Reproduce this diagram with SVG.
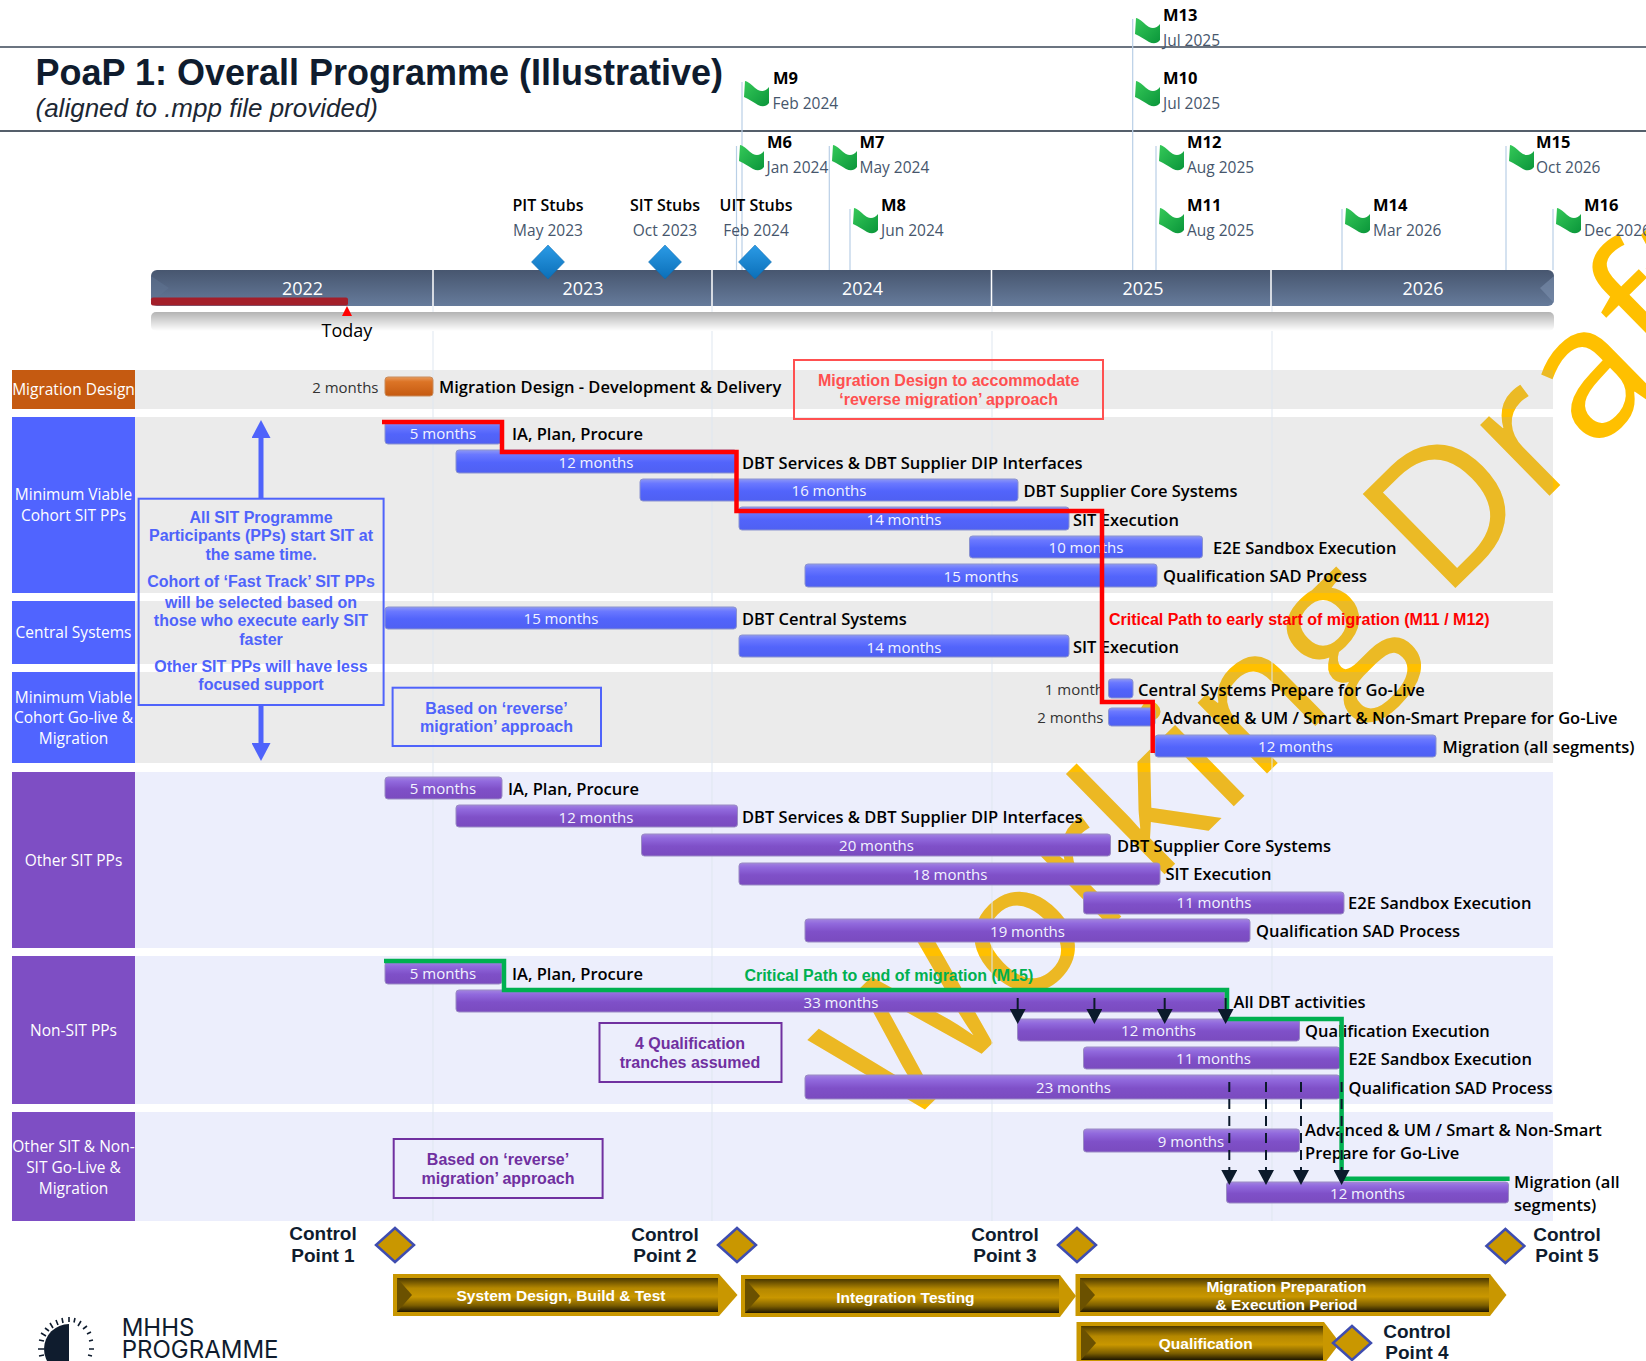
<svg xmlns="http://www.w3.org/2000/svg" width="1646" height="1361" viewBox="0 0 1646 1361">
<style>
text{font-family:"Open Sans","Noto Sans",sans-serif}
.a{font-family:"Liberation Sans",Arial,sans-serif;font-weight:700}
.l{font-size:16.5px;font-weight:600;fill:#000}
.d{font-size:15.5px;fill:#46566c}
.m{font-size:16.5px;font-weight:700;fill:#000}
.s{font-size:16px;font-weight:600;fill:#000;text-anchor:middle}
.t{font-size:15px;fill:#f2f3ff;text-anchor:middle}
.g{font-size:15px;fill:#333;text-anchor:end}
.h{font-size:15.5px;fill:#fff;text-anchor:middle}
.y{font-size:18px;fill:#fff;text-anchor:middle}
.cb{font-size:16px;fill:#4f63fb;text-anchor:middle}
.cp{font-size:16px;fill:#7030a0;text-anchor:middle}
.cr{font-size:16px;fill:#ff5050;text-anchor:middle}
.c{font-size:19px;fill:#0f1c2e;text-anchor:middle}
.w{font-size:15.5px;fill:#fff;text-anchor:middle}
.bb{fill:url(#blue);stroke:#8b93cf;stroke-width:1}
.bp{fill:url(#purple);stroke:#9a8bc4;stroke-width:1}
.cd{fill:#c99700;stroke:#3f4db0;stroke-width:2.5}
.bd{fill:url(#bdia);stroke:#0a6bb0;stroke-width:.5}
.pole{stroke:#b9cfe6;stroke-width:1.2}
.grid{stroke:#dfe7f0;stroke-width:1}
.gb{fill:rgba(165,165,165,.224)}
.pb{fill:rgba(128,142,235,.15)}
.dash{stroke:#0b1a2b;stroke-width:2;stroke-dasharray:10 7;fill:none;marker-end:url(#head)}
.solid{stroke:#0b1a2b;stroke-width:2;fill:none;marker-end:url(#head)}
.box{fill:none;stroke-width:2}
</style>
<defs>
<linearGradient id="blue" x1="0" y1="0" x2="0" y2="1"><stop offset="0" stop-color="#8d97f5"/><stop offset=".2" stop-color="#6a78ff"/><stop offset=".55" stop-color="#5264fb"/><stop offset="1" stop-color="#4f60f2"/></linearGradient>
<linearGradient id="purple" x1="0" y1="0" x2="0" y2="1"><stop offset="0" stop-color="#a283e0"/><stop offset=".2" stop-color="#9169dd"/><stop offset=".55" stop-color="#7f50c8"/><stop offset="1" stop-color="#7a4bbf"/></linearGradient>
<linearGradient id="orange" x1="0" y1="0" x2="0" y2="1"><stop offset="0" stop-color="#e89a5c"/><stop offset=".25" stop-color="#dc7426"/><stop offset="1" stop-color="#c55a11"/></linearGradient>
<linearGradient id="tl" x1="0" y1="0" x2="0" y2="1"><stop offset="0" stop-color="#47566f"/><stop offset="1" stop-color="#667b9b"/></linearGradient>
<linearGradient id="refl" x1="0" y1="0" x2="0" y2="1"><stop offset="0" stop-color="#b3b3b3"/><stop offset="1" stop-color="#fff"/></linearGradient>
<linearGradient id="bdia" x1="0" y1="0" x2="0" y2="1"><stop offset="0" stop-color="#2b9be6"/><stop offset="1" stop-color="#0b6fb8"/></linearGradient>
<linearGradient id="flag" x1="0" y1="0" x2="1" y2="1"><stop offset="0" stop-color="#35c958"/><stop offset="1" stop-color="#0a953a"/></linearGradient>
<linearGradient id="gold" x1="0" y1="0" x2="0" y2="1"><stop offset="0" stop-color="#4a3800"/><stop offset=".3" stop-color="#b58800"/><stop offset=".55" stop-color="#c99700"/><stop offset=".8" stop-color="#7d5f00"/><stop offset="1" stop-color="#1f1700"/></linearGradient>
<marker id="head" markerUnits="userSpaceOnUse" markerWidth="16" markerHeight="16" refX="0" refY="8" orient="auto"><path d="M0,0 L15,8 L0,16 Z" fill="#0b1a2b"/></marker>
<marker id="bhead" markerUnits="userSpaceOnUse" markerWidth="18" markerHeight="19" refX="0" refY="9.5" orient="auto"><path d="M0,0 L18,9.5 L0,19 Z" fill="#4f63fb"/></marker>
<path id="fl" d="M1,0 C6,1 9,6 14,9 C18,11 22,10 25,6 L25,22 C22,26 18,26 14,24 C9,21 5,18 0,16 Z" fill="url(#flag)"/>
</defs>

<g id="watermark"><text x="898" y="1136" transform="rotate(-44.5 898 1136)" font-size="185" fill="#ffc000" style="font-family:'Open Sans',sans-serif" text-rendering="geometricPrecision">Working Draft</text></g>

<g id="header-lines"><line x1="0" y1="47" x2="1646" y2="47" stroke="#3a4656" stroke-width="1.6"/><line x1="0" y1="131" x2="1646" y2="131" stroke="#1c2a3a" stroke-width="1.6"/></g>

<g id="title">
<text class="a" x="35.5" y="85" font-size="36" fill="#0f1c2e">PoaP 1: Overall Programme (Illustrative)</text>
<text x="35.5" y="117" font-size="26" font-style="italic" fill="#1c2733" style="font-family:'Liberation Sans',Arial,sans-serif">(aligned to .mpp file provided)</text>
</g>

<g id="bands">
<rect class="gb" x="135" y="370" width="1418" height="39"/>
<rect class="gb" x="135" y="417" width="1418" height="176"/>
<rect class="gb" x="135" y="601" width="1418" height="63"/>
<rect class="gb" x="135" y="672" width="1418" height="91"/>
<rect class="pb" x="135" y="772" width="1418" height="176"/>
<rect class="pb" x="135" y="956" width="1418" height="148"/>
<rect class="pb" x="135" y="1112" width="1418" height="109"/>
</g>
<g id="gridlines">
<line class="grid" x1="433" y1="306" x2="433" y2="1221"/><line class="grid" x1="712" y1="306" x2="712" y2="1221"/><line class="grid" x1="992" y1="306" x2="992" y2="1221"/><line class="grid" x1="1272" y1="306" x2="1272" y2="1221"/>
</g>

<g id="row-labels">
<g id="lbl-md"><rect x="12" y="370" width="123" height="39" fill="#c55a11"/><text class="h" x="73.5" y="395">Migration Design</text></g>
<g id="lbl-mvc"><rect x="12" y="417" width="123" height="176" fill="#5064ff"/><text class="h" x="73.5" y="500">Minimum Viable</text><text class="h" x="73.5" y="521">Cohort SIT PPs</text></g>
<g id="lbl-cs"><rect x="12" y="601" width="123" height="63" fill="#5064ff"/><text class="h" x="73.5" y="638">Central Systems</text></g>
<g id="lbl-mvg"><rect x="12" y="672" width="123" height="91" fill="#5064ff"/><text class="h" x="73.5" y="703">Minimum Viable</text><text class="h" x="73.5" y="723">Cohort Go-live &amp;</text><text class="h" x="73.5" y="744">Migration</text></g>
<g id="lbl-os"><rect x="12" y="772" width="123" height="176" fill="#7e4ec4"/><text class="h" x="73.5" y="866">Other SIT PPs</text></g>
<g id="lbl-ns"><rect x="12" y="956" width="123" height="148" fill="#7e4ec4"/><text class="h" x="73.5" y="1036">Non-SIT PPs</text></g>
<g id="lbl-og"><rect x="12" y="1112" width="123" height="109" fill="#7e4ec4"/><text class="h" x="73.5" y="1152">Other SIT &amp; Non-</text><text class="h" x="73.5" y="1173">SIT Go-Live &amp;</text><text class="h" x="73.5" y="1194">Migration</text></g>
</g>

<g id="poles">
<line class="pole" x1="742" y1="82" x2="742" y2="270"/><line class="pole" x1="736.5" y1="146" x2="736.5" y2="270"/><line class="pole" x1="829.3" y1="146" x2="829.3" y2="270"/><line class="pole" x1="850" y1="209" x2="850" y2="270"/><line class="pole" x1="1132.7" y1="19" x2="1132.7" y2="270"/><line class="pole" x1="1156" y1="146" x2="1156" y2="270"/><line class="pole" x1="1342" y1="209" x2="1342" y2="270"/><line class="pole" x1="1506" y1="146" x2="1506" y2="270"/><line class="pole" x1="1553" y1="209" x2="1553" y2="270"/>
</g>

<g id="timeline">
<rect x="151" y="312" width="1403" height="19" rx="5" fill="url(#refl)"/>
<rect x="151" y="270" width="1403" height="36" rx="6" fill="url(#tl)"/>
<path d="M151,276 L169,288 L151,303 Z" fill="#5f7391" opacity=".5"/>
<path d="M1554,276 L1540,288 L1554,303 Z" fill="#7b8fae" opacity=".6"/>
<g stroke="#fff" stroke-width="1.5"><line x1="433" y1="270" x2="433" y2="306"/><line x1="712" y1="270" x2="712" y2="306"/><line x1="991.5" y1="270" x2="991.5" y2="306"/><line x1="1271" y1="270" x2="1271" y2="306"/></g>
<text class="y" x="302.5" y="295">2022</text><text class="y" x="583" y="295">2023</text><text class="y" x="862.5" y="295">2024</text><text class="y" x="1143" y="295">2025</text><text class="y" x="1423" y="295">2026</text>
<rect x="151" y="297.5" width="197" height="8" rx="2" fill="#a31f2a"/>
<path d="M347,306 L352,316 L342,316 Z" fill="#ff0000"/>
<text x="347" y="337" font-size="18" fill="#000" text-anchor="middle">Today</text>
</g>

<g id="stub-pit"><path class="bd" d="M548,245 L564.5,262 L548,279 L531.5,262 Z"/><text class="s" x="548" y="211">PIT Stubs</text><text class="d" x="548" y="236" text-anchor="middle">May 2023</text></g>
<g id="stub-sit"><path class="bd" d="M665,245 L681.5,262 L665,279 L648.5,262 Z"/><text class="s" x="665" y="211">SIT Stubs</text><text class="d" x="665" y="236" text-anchor="middle">Oct 2023</text></g>
<g id="stub-uit"><path class="bd" d="M755,245 L771.5,262 L755,279 L738.5,262 Z"/><text class="s" x="756" y="211">UIT Stubs</text><text class="d" x="756" y="236" text-anchor="middle">Feb 2024</text></g>

<g id="m9"><use href="#fl" x="744" y="81"/><text class="m" x="773" y="84">M9</text><text class="d" x="772.5" y="109">Feb 2024</text></g>
<g id="m6"><use href="#fl" x="739" y="145"/><text class="m" x="767" y="148">M6</text><text class="d" x="766.5" y="173">Jan 2024</text></g>
<g id="m7"><use href="#fl" x="832" y="145"/><text class="m" x="859.5" y="148">M7</text><text class="d" x="859.5" y="173">May 2024</text></g>
<g id="m8"><use href="#fl" x="853" y="208"/><text class="m" x="881" y="211">M8</text><text class="d" x="881" y="236">Jun 2024</text></g>
<g id="m13"><use href="#fl" x="1135" y="18"/><text class="m" x="1163" y="21">M13</text><text class="d" x="1163" y="46">Jul 2025</text></g>
<g id="m10"><use href="#fl" x="1135" y="81"/><text class="m" x="1163" y="84">M10</text><text class="d" x="1163" y="109">Jul 2025</text></g>
<g id="m12"><use href="#fl" x="1159" y="145"/><text class="m" x="1187" y="148">M12</text><text class="d" x="1187" y="173">Aug 2025</text></g>
<g id="m11"><use href="#fl" x="1159" y="208"/><text class="m" x="1187" y="211">M11</text><text class="d" x="1187" y="236">Aug 2025</text></g>
<g id="m14"><use href="#fl" x="1345" y="208"/><text class="m" x="1373" y="211">M14</text><text class="d" x="1373" y="236">Mar 2026</text></g>
<g id="m15"><use href="#fl" x="1509" y="145"/><text class="m" x="1536" y="148">M15</text><text class="d" x="1536" y="173">Oct 2026</text></g>
<g id="m16"><use href="#fl" x="1556" y="208"/><text class="m" x="1584" y="211">M16</text><text class="d" x="1584" y="236">Dec 2026</text></g>

<g id="bars-md">
<rect x="385" y="377" width="48" height="19" rx="3" fill="url(#orange)" stroke="#c98b5a"/>
<text class="g" x="378.5" y="393">2 months</text><text class="l" x="439" y="393">Migration Design - Development &amp; Delivery</text>
</g>

<g id="bars-mvc">
<g id="b1"><rect class="bb" x="385" y="422" width="116" height="22" rx="3"/><text class="t" x="443" y="439">5 months</text><text class="l" x="512" y="440">IA, Plan, Procure</text></g>
<g id="b2"><rect class="bb" x="456" y="450" width="281" height="23" rx="3"/><text class="t" x="596" y="468">12 months</text><text class="l" x="742" y="469">DBT Services &amp; DBT Supplier DIP Interfaces</text></g>
<g id="b3"><rect class="bb" x="640" y="479" width="378" height="22" rx="3"/><text class="t" x="829" y="496">16 months</text><text class="l" x="1023.5" y="497">DBT Supplier Core Systems</text></g>
<g id="b4"><rect class="bb" x="739" y="507" width="330" height="23" rx="3"/><text class="t" x="904" y="525">14 months</text><text class="l" x="1073" y="526">SIT Execution</text></g>
<g id="b5"><rect class="bb" x="969.5" y="536" width="233" height="22" rx="3"/><text class="t" x="1086" y="553">10 months</text><text class="l" x="1213" y="554">E2E Sandbox Execution</text></g>
<g id="b6"><rect class="bb" x="805" y="564" width="352" height="23" rx="3"/><text class="t" x="981" y="582">15 months</text><text class="l" x="1163" y="582">Qualification SAD Process</text></g>
<g id="b7"><rect class="bb" x="385" y="607" width="351.5" height="22" rx="3"/><text class="t" x="561" y="624">15 months</text><text class="l" x="742" y="625">DBT Central Systems</text></g>
<g id="b8"><rect class="bb" x="739" y="635" width="330" height="22" rx="3"/><text class="t" x="904" y="653">14 months</text><text class="l" x="1073" y="653">SIT Execution</text></g>
<g id="b9"><rect class="bb" x="1108.5" y="679" width="24.5" height="19" rx="3"/><text class="g" x="1104" y="695">1 month</text><text class="l" x="1138" y="696">Central Systems Prepare for Go-Live</text></g>
<g id="b10"><rect class="bb" x="1108.5" y="708" width="46.5" height="18" rx="3"/><text class="g" x="1103.5" y="723">2 months</text><text class="l" x="1162" y="724">Advanced &amp; UM / Smart &amp; Non-Smart Prepare for Go-Live</text></g>
<g id="b11"><rect class="bb" x="1155" y="735" width="281" height="22" rx="3"/><text class="t" x="1295.5" y="752">12 months</text><text class="l" x="1442.5" y="753">Migration (all segments)</text></g>
</g>

<g id="bars-other">
<g id="p1"><rect class="bp" x="385" y="777" width="117" height="22" rx="3"/><text class="t" x="443" y="794">5 months</text><text class="l" x="508" y="795">IA, Plan, Procure</text></g>
<g id="p2"><rect class="bp" x="456" y="805" width="281.5" height="22" rx="3"/><text class="t" x="596" y="823">12 months</text><text class="l" x="742" y="823">DBT Services &amp; DBT Supplier DIP Interfaces</text></g>
<g id="p3"><rect class="bp" x="641.5" y="834" width="469" height="22" rx="3"/><text class="t" x="876.5" y="851">20 months</text><text class="l" x="1117" y="852">DBT Supplier Core Systems</text></g>
<g id="p4"><rect class="bp" x="739" y="863" width="421" height="22" rx="3"/><text class="t" x="950" y="880">18 months</text><text class="l" x="1165.5" y="880">SIT Execution</text></g>
<g id="p5"><rect class="bp" x="1083.5" y="892" width="260.5" height="22" rx="3"/><text class="t" x="1214" y="908">11 months</text><text class="l" x="1348" y="909">E2E Sandbox Execution</text></g>
<g id="p6"><rect class="bp" x="805" y="919" width="445" height="23" rx="3"/><text class="t" x="1027.5" y="937">19 months</text><text class="l" x="1256" y="937">Qualification SAD Process</text></g>
</g>

<g id="bars-nonsit">
<g id="n1"><rect class="bp" x="385" y="962" width="117" height="22" rx="3"/><text class="t" x="443" y="979">5 months</text><text class="l" x="512" y="980">IA, Plan, Procure</text></g>
<g id="n2"><rect class="bp" x="456" y="990" width="768.5" height="22" rx="3"/><text class="t" x="841" y="1008">33 months</text><text class="l" x="1233.5" y="1008">All DBT activities</text></g>
<g id="n3"><rect class="bp" x="1017.5" y="1019" width="282" height="22" rx="3"/><text class="t" x="1158.5" y="1036">12 months</text><text class="l" x="1305" y="1037">Qualification Execution</text></g>
<g id="n4"><rect class="bp" x="1083.5" y="1047" width="256.5" height="22" rx="3"/><text class="t" x="1213.5" y="1064">11 months</text><text class="l" x="1348.5" y="1065">E2E Sandbox Execution</text></g>
<g id="n5"><rect class="bp" x="805" y="1075" width="535" height="24" rx="3"/><text class="t" x="1073.5" y="1093">23 months</text><text class="l" x="1348.5" y="1094">Qualification SAD Process</text></g>
<g id="n6"><rect class="bp" x="1083.5" y="1129" width="216" height="23" rx="3"/><text class="t" x="1191" y="1147">9 months</text><text class="l" x="1305" y="1136">Advanced &amp; UM / Smart &amp; Non-Smart</text><text class="l" x="1305" y="1159">Prepare for Go-Live</text></g>
<g id="n7"><rect class="bp" x="1226.5" y="1182" width="282" height="21" rx="3"/><text class="t" x="1367.5" y="1199">12 months</text><text class="l" x="1514" y="1188">Migration (all</text><text class="l" x="1514" y="1211">segments)</text></g>
</g>

<g id="connectors">
<path d="M382,422 H502 V452 H736.5 V511 H1102 V702 H1152.7 V753" fill="none" stroke="#ff0000" stroke-width="4.5"/>
<path d="M384,961 H504 V990 H1227 V1019 H1341.6 V1178.7 H1509.6" fill="none" stroke="#00b050" stroke-width="4.5"/>
<line class="solid" x1="1017.7" y1="998" x2="1017.7" y2="1009"/>
<line class="solid" x1="1094.4" y1="998" x2="1094.4" y2="1009"/>
<line class="solid" x1="1164.7" y1="998" x2="1164.7" y2="1009"/>
<line class="solid" x1="1225.6" y1="998" x2="1225.6" y2="1009"/>
<line class="dash" x1="1229.3" y1="1082" x2="1229.3" y2="1170"/>
<line class="dash" x1="1266" y1="1082" x2="1266" y2="1170"/>
<line class="dash" x1="1301" y1="1082" x2="1301" y2="1170"/>
<line class="dash" x1="1341.6" y1="1082" x2="1341.6" y2="1170"/>
<line stroke="#4f63fb" stroke-width="5" x1="261" y1="498" x2="261" y2="438" marker-end="url(#bhead)"/>
<line stroke="#4f63fb" stroke-width="5" x1="261" y1="706" x2="261" y2="743" marker-end="url(#bhead)"/>
</g>

<g id="critical-labels">
<text class="a" x="1109" y="625" font-size="16" fill="#ff0000">Critical Path to early start of migration (M11 / M12)</text>
<text class="a" x="744.4" y="981" font-size="16" fill="#00b050">Critical Path to end of migration (M15)</text>
</g>

<g id="note-sit"><rect class="box" x="138.6" y="498.7" width="245" height="206.3" stroke="#4f63fb"/>
<g class="a"><text class="cb a" x="261" y="523">All SIT Programme</text><text class="cb a" x="261" y="541">Participants (PPs) start SIT at</text><text class="cb a" x="261" y="560">the same time.</text><text class="cb a" x="261" y="587">Cohort of ‘Fast Track’ SIT PPs</text><text class="cb a" x="261" y="608">will be selected based on</text><text class="cb a" x="261" y="626">those who execute early SIT</text><text class="cb a" x="261" y="645">faster</text><text class="cb a" x="261" y="672">Other SIT PPs will have less</text><text class="cb a" x="261" y="690">focused support</text></g></g>
<g id="note-rev1"><rect class="box" x="392.6" y="687.7" width="208.4" height="58.3" stroke="#4f63fb"/><text class="cb a" x="496.5" y="714">Based on ‘reverse’</text><text class="cb a" x="496.5" y="732">migration’ approach</text></g>
<g id="note-md"><rect class="box" x="794" y="360" width="309" height="59" stroke="#ff5050"/><text class="cr a" x="948.6" y="386">Migration Design to accommodate</text><text class="cr a" x="948.6" y="405">‘reverse migration’ approach</text></g>
<g id="note-q"><rect class="box" x="599.5" y="1023" width="182" height="59" stroke="#7030a0"/><text class="cp a" x="690" y="1049">4  Qualification</text><text class="cp a" x="690" y="1068">tranches assumed</text></g>
<g id="note-rev2"><rect class="box" x="393.7" y="1139" width="208.9" height="59" stroke="#7030a0"/><text class="cp a" x="498" y="1165">Based on ‘reverse’</text><text class="cp a" x="498" y="1184">migration’ approach</text></g>

<g id="cp1"><path class="cd" d="M395,1228 L414,1245 L395,1262 L376,1245 Z"/><text class="c a" x="323" y="1240">Control</text><text class="c a" x="323" y="1262">Point 1</text></g>
<g id="cp2"><path class="cd" d="M737,1228 L756,1245 L737,1262 L718,1245 Z"/><text class="c a" x="665" y="1241">Control</text><text class="c a" x="665" y="1262">Point 2</text></g>
<g id="cp3"><path class="cd" d="M1077,1228 L1096,1245 L1077,1262 L1058,1245 Z"/><text class="c a" x="1005" y="1241">Control</text><text class="c a" x="1005" y="1262">Point 3</text></g>
<g id="cp5"><path class="cd" d="M1505.4,1229 L1524.4,1246 L1505.4,1263 L1486.4,1246 Z"/><text class="c a" x="1567" y="1241">Control</text><text class="c a" x="1567" y="1262">Point 5</text></g>

<g id="phase-sys"><path d="M393,1274 H719 L737.5,1295 L719,1316 H393 Z" fill="#c99700"/><path d="M397,1278 H718 V1312 H397 Z" fill="url(#gold)"/><path d="M397,1278 L412,1295 L397,1312 Z" fill="#6b5100"/><path d="M718,1278 L733,1295 L718,1312 Z" fill="#c99700"/><text class="w a" x="561" y="1301">System Design, Build &amp; Test</text></g>
<g id="phase-int"><path d="M741,1275 H1060 L1076,1296 L1060,1317 H741 Z" fill="#c99700"/><path d="M745,1279 H1059 V1313 H745 Z" fill="url(#gold)"/><path d="M745,1279 L760,1296 L745,1313 Z" fill="#6b5100"/><path d="M1059,1279 L1072,1296 L1059,1313 Z" fill="#c99700"/><text class="w a" x="905.4" y="1303">Integration Testing</text></g>
<g id="phase-mig"><path d="M1075.5,1274 H1490 L1506.5,1295 L1490,1316 H1075.5 Z" fill="#c99700"/><path d="M1080,1278 H1489 V1312 H1080 Z" fill="url(#gold)"/><path d="M1080,1278 L1095,1295 L1080,1312 Z" fill="#6b5100"/><path d="M1489,1278 L1502,1295 L1489,1312 Z" fill="#c99700"/><text class="w a" x="1286.5" y="1292">Migration Preparation</text><text class="w a" x="1286.5" y="1310">&amp; Execution Period</text></g>
<g id="phase-q"><path d="M1076.5,1322 H1324 L1340,1343 L1324,1364 H1076.5 Z" fill="#c99700"/><path d="M1081,1326 H1323 V1360 H1081 Z" fill="url(#gold)"/><path d="M1081,1326 L1096,1343 L1081,1360 Z" fill="#6b5100"/><path d="M1323,1326 L1336,1343 L1323,1360 Z" fill="#c99700"/><text class="w a" x="1205.7" y="1349">Qualification</text></g>
<g id="cp4"><path class="cd" d="M1352,1326 L1371,1343 L1352,1360 L1333,1343 Z"/><text class="c a" x="1417" y="1338">Control</text><text class="c a" x="1417" y="1359">Point 4</text></g>

<g id="logo">
<path d="M69,1324 A25,25 0 0 0 69,1374 Z" fill="#0f1c2e"/>
<g stroke="#0f1c2e" stroke-width="1.6" fill="none">
<path d="M69,1317 V1322 M75,1318 L74,1322.5 M81,1321 L78,1326 M87,1326 L83,1329 M91,1332 L87,1334 M93,1340 L89,1341 M94,1349 L89,1349 M92,1356 L88,1355 M62,1318 L63,1323 M56,1320 L58,1325 M50,1323 L53,1328 M45,1328 L49,1331 M41,1333 L46,1336 M39,1340 L44,1341 M38,1349 L44,1349 M39,1356 L44,1355"/>
</g>
<text x="121.7" y="1336" font-size="24" fill="#0f1c2e" style="font-family:Inter,sans-serif">MHHS</text>
<text x="121.7" y="1358" font-size="24" fill="#0f1c2e" style="font-family:Inter,sans-serif">PROGRAMME</text>
</g>
</svg>
